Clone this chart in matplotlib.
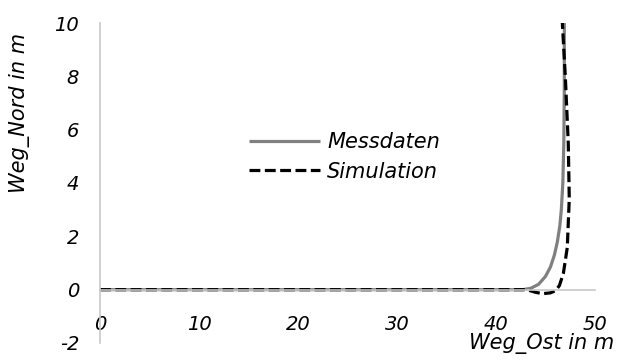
import matplotlib
matplotlib.use("Agg")
import matplotlib.pyplot as plt

# Messdaten (gray, solid)
mess_x = [0, 10, 20, 30, 40, 42.7, 43.5, 44.3, 45.0, 45.5, 45.9, 46.2, 46.45, 46.6, 46.75, 46.85, 46.9, 46.9]
mess_y = [0, 0, 0, 0, 0, 0, 0.05, 0.2, 0.5, 0.85, 1.3, 1.8, 2.4, 3.0, 4.0, 5.5, 7.5, 10]

# Simulation (black, dashed)
sim_x = [0, 10, 20, 30, 40, 43.1, 44.0, 44.7, 45.5, 46.0, 46.4, 46.8, 47.2, 47.4, 47.3, 47.0, 46.7]
sim_y = [0, 0, 0, 0, 0, 0, -0.1, -0.15, -0.12, -0.04, 0.15, 0.6, 1.58, 3.4, 5.5, 8.0, 10]

x_ticks = [0, 10, 20, 30, 40, 50]
y_ticks = [-2, 0, 2, 4, 6, 8, 10]

plt.rcParams['font.family'] = ['DejaVu Sans']
plt.rcParams['font.style'] = 'italic'
plt.rcParams['axes.unicode_minus'] = False
fs = 14
fs_lab = 15

fig = plt.figure(figsize=(6.24, 3.59), dpi=100)
ax = fig.add_axes([100 / 624, 16 / 359, 495 / 624, 320 / 359])

ax.plot(mess_x, mess_y, color='#808080', lw=2.3, label='Messdaten', solid_capstyle='butt')
ax.plot(sim_x, sim_y, color='black', lw=2.3, linestyle=(0, (3.4, 1.4)), label='Simulation')

for s in ['top', 'right']:
    ax.spines[s].set_visible(False)
ax.spines['bottom'].set_position(('data', 0))
ax.spines['bottom'].set_color('#c8c8c8')
ax.spines['left'].set_color('#c8c8c8')
ax.spines['bottom'].set_linewidth(1.2)
ax.spines['left'].set_linewidth(1.2)

ax.set_xlim(0, 50)
ax.set_ylim(-2, 10)
ax.set_xticks(x_ticks)
ax.set_yticks(y_ticks)
ax.tick_params(axis='x', length=0, pad=18, labelsize=fs)
ax.tick_params(axis='y', length=0, pad=15, labelsize=fs)

fig.text(614 / 624, 1 - 343 / 359, 'Weg_Ost in m', fontsize=fs_lab,
         ha='right', va='center')
fig.text(20 / 624, 1 - 113 / 359, 'Weg_Nord in m', fontsize=fs_lab,
         ha='center', va='center', rotation=90)

ax.legend(loc='center left', bbox_to_anchor=(249 / 624, 1 - 157 / 359),
          bbox_transform=fig.transFigure, frameon=False, fontsize=fs_lab,
          handlelength=3.4, handletextpad=0.35, labelspacing=0.45,
          borderpad=0, borderaxespad=0)

fig.savefig('out.png', dpi=100)
